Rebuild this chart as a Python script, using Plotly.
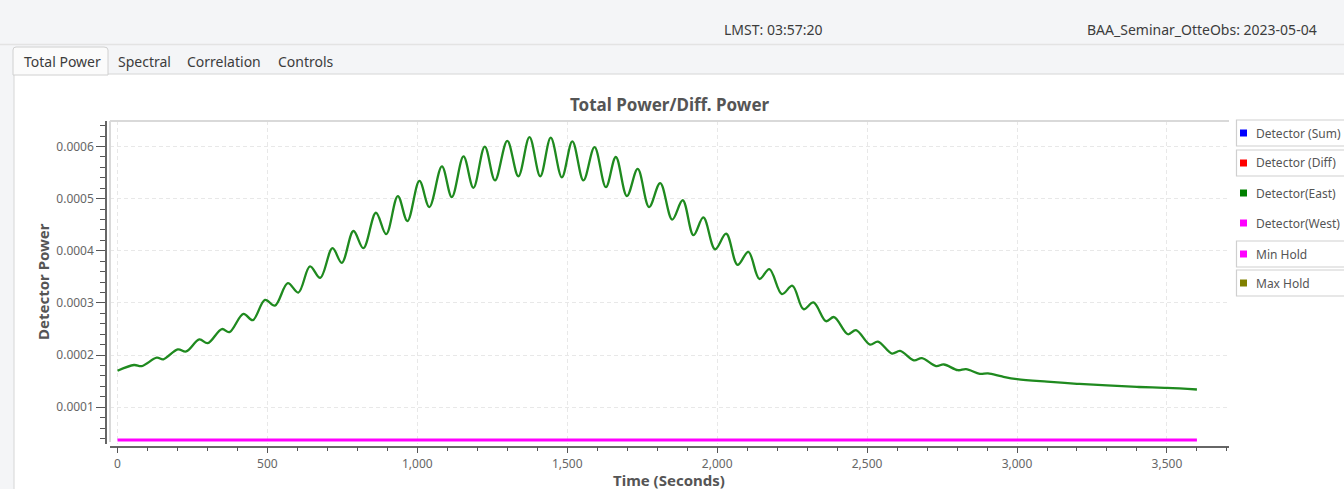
import plotly.graph_objects as go

W, H = 1344, 489

# ---------------- data ----------------
east_time = [0, 55, 81, 131, 153, 201, 229, 273, 301, 348, 373, 420, 451, 492, 525, 568, 603,
             642, 676, 717, 748, 787, 820, 862, 896, 935, 967, 1007, 1040, 1082, 1115, 1154,
             1187, 1225, 1259, 1300, 1337, 1374, 1410, 1445, 1482, 1517, 1554, 1591, 1629,
             1662, 1699, 1735, 1773, 1810, 1850, 1885, 1921, 1954, 1993, 2030, 2068, 2104,
             2141, 2174, 2216, 2251, 2288, 2321, 2363, 2390, 2436, 2463, 2510, 2536, 2583,
             2610, 2656, 2683, 2730, 2756, 2803, 2830, 2876, 2903, 2950, 3000, 3100, 3200,
             3300, 3400, 3500, 3600]
east_power = [0.000170, 0.000181, 0.000179, 0.000195, 0.000192, 0.000211, 0.000207, 0.000230,
              0.000223, 0.000250, 0.000244, 0.000279, 0.000267, 0.000306, 0.000295, 0.000338,
              0.000320, 0.000370, 0.000348, 0.000405, 0.000377, 0.000438, 0.000405, 0.000473,
              0.000432, 0.000505, 0.000457, 0.000534, 0.000484, 0.000562, 0.000503, 0.000581,
              0.000521, 0.000600, 0.000535, 0.000611, 0.000543, 0.000618, 0.000543, 0.000617,
              0.000541, 0.000610, 0.000535, 0.000599, 0.000522, 0.000580, 0.000505, 0.000557,
              0.000484, 0.000530, 0.000460, 0.000497, 0.000430, 0.000464, 0.000403, 0.000433,
              0.000373, 0.000398, 0.000346, 0.000365, 0.000317, 0.000333, 0.000288, 0.000301,
              0.000265, 0.000273, 0.000240, 0.000248, 0.000220, 0.000226, 0.000203, 0.000208,
              0.000190, 0.000194, 0.000179, 0.000182, 0.000171, 0.000173, 0.000164, 0.000165,
              0.000159, 0.000154, 0.000149, 0.000145, 0.000142, 0.000139, 0.000137, 0.000134]

minhold_time = [0, 3600]
minhold_power = [0.000037, 0.000037]

legend_names = ["Detector (Sum)", "Detector (Diff)", "Detector(East)", "Detector(West)",
                "Min Hold", "Max Hold"]
legend_colors = ["#0000ff", "#ff0000", "#008000", "#ff00ff", "#ff00ff", "#808000"]
legend_boxed = [True, True, False, False, True, True]

x_tickvals = [0, 500, 1000, 1500, 2000, 2500, 3000, 3500]
y_tickvals = [0.0001, 0.0002, 0.0003, 0.0004, 0.0005, 0.0006]

tabs = ["Total Power", "Spectral", "Correlation", "Controls"]
tab_x = [22, 116, 185, 276]

FONT = "Noto Sans"
GRAY_TXT = "#666666"

# ---------------- geometry helpers (pixel -> paper) ----------------
def px(x):
    return x / W

def py(y):
    return 1 - y / H

plot_l, plot_r, plot_t, plot_b = 110, 1229, 121, 444

fig = go.Figure()

fig.add_trace(go.Scatter(
    x=minhold_time, y=minhold_power, mode="lines", name="Min Hold",
    line=dict(color="#ff00ff", width=3), showlegend=False, hoverinfo="skip"))
fig.add_trace(go.Scatter(
    x=east_time, y=east_power, mode="lines", name="Detector(East)",
    line=dict(color="#1f8a1f", width=2.3, shape="spline", smoothing=1.0),
    showlegend=False))

shapes = []
annotations = []

# page background pieces
shapes.append(dict(type="rect", xref="paper", yref="paper", x0=px(14), x1=px(W + 5),
                   y0=py(H + 5), y1=py(74), fillcolor="white",
                   line=dict(color="#d6d6d6", width=1), layer="below"))
shapes.append(dict(type="line", xref="paper", yref="paper", x0=0, x1=1, y0=py(44.5), y1=py(44.5),
                   line=dict(color="#e3e3e3", width=1.5), layer="below"))
# selected tab
shapes.append(dict(type="path", xref="paper", yref="paper",
                   path=f"M {px(13)} {py(75)} L {px(13)} {py(50)} Q {px(13)} {py(47)} {px(16)} {py(47)} "
                        f"L {px(104)} {py(47)} Q {px(108)} {py(47)} {px(108)} {py(50)} L {px(108)} {py(75)} Z",
                   fillcolor="#fbfbfb", line=dict(color="#d0d0d0", width=1), layer="below"))

for name, x in zip(tabs, tab_x):
    annotations.append(dict(text=name, xref="paper", yref="paper", x=px(x), y=py(62),
                            xanchor="left", yanchor="middle", showarrow=False,
                            font=dict(family=FONT, size=14, color="#3c3c3c")))

annotations.append(dict(text="LMST: 03:57:20", xref="paper", yref="paper", x=px(773), y=py(30),
                        xanchor="center", yanchor="middle", showarrow=False,
                        font=dict(family=FONT, size=14, color="#3c3c3c")))
annotations.append(dict(text="BAA_Seminar_OtteObs: 2023-05-04", xref="paper", yref="paper",
                        x=px(1319), y=py(30), xanchor="right", yanchor="middle", showarrow=False,
                        font=dict(family=FONT, size=14, color="#3c3c3c")))

# chart title and axis titles
annotations.append(dict(text="<b>Total Power/Diff. Power</b>", xref="paper", yref="paper",
                        x=px(670), y=py(104), xanchor="center", yanchor="middle", showarrow=False,
                        font=dict(family=FONT, size=17, color="#555555")))
annotations.append(dict(text="<b>Time (Seconds)</b>", xref="paper", yref="paper",
                        x=px(669), y=py(480), xanchor="center", yanchor="middle", showarrow=False,
                        font=dict(family=FONT, size=15, color="#555555")))
annotations.append(dict(text="<b>Detector Power</b>", xref="paper", yref="paper",
                        x=px(43), y=py(282), xanchor="center", yanchor="middle", showarrow=False,
                        textangle=-90, font=dict(family=FONT, size=15, color="#555555")))

# plot frame (light top / left borders)
shapes.append(dict(type="line", xref="paper", yref="paper", x0=px(plot_l), x1=px(plot_r),
                   y0=py(plot_t), y1=py(plot_t), line=dict(color="#d9d9d9", width=2)))
shapes.append(dict(type="line", xref="paper", yref="paper", x0=px(plot_l), x1=px(plot_l),
                   y0=py(plot_t), y1=py(442), line=dict(color="#d9d9d9", width=2)))

# custom legend
leg_y = [133, 163, 193, 223, 254, 283]
for name, col, boxed, yc in zip(legend_names, legend_colors, legend_boxed, leg_y):
    if boxed:
        shapes.append(dict(type="rect", xref="paper", yref="paper", x0=px(1236.5), x1=px(W + 10),
                           y0=py(yc + 13), y1=py(yc - 13),
                           line=dict(color="#cfcfcf", width=1.2), fillcolor="white"))
    shapes.append(dict(type="rect", xref="paper", yref="paper", x0=px(1240), x1=px(1247),
                       y0=py(yc + 3.5), y1=py(yc - 3.5), line=dict(width=0), fillcolor=col))
    annotations.append(dict(text=name, xref="paper", yref="paper", x=px(1254), y=py(yc),
                            xanchor="left", yanchor="middle", showarrow=False,
                            font=dict(family=FONT, size=12, color="#555555")))

fig.update_layout(
    width=W, height=H,
    margin=dict(l=0, r=0, t=0, b=0),
    paper_bgcolor="#f4f5f7",
    plot_bgcolor="white",
    showlegend=False,
    shapes=shapes,
    annotations=annotations,
    xaxis=dict(
        domain=[px(plot_l), px(plot_r)],
        range=[-25, 3707],
        anchor="free", position=py(446.5),
        tickvals=x_tickvals, tickformat=",d",
        ticks="outside", ticklen=6, tickwidth=1, tickcolor="#555555",
        showline=True, linecolor="#666666", linewidth=1.5,
        showgrid=True, gridcolor="#e8e8e8", griddash="4px,3px", gridwidth=1,
        zeroline=False,
        tickfont=dict(family=FONT, size=12, color=GRAY_TXT),
        minor=dict(dtick=100, tick0=0, ticks="outside", ticklen=4, tickcolor="#555555", showgrid=False),
        automargin=False,
    ),
    yaxis=dict(
        domain=[py(plot_b), py(plot_t)],
        range=[0.0000295, 0.000649],
        anchor="free", position=px(106),
        tickvals=y_tickvals, tickformat=".4f",
        ticks="outside", ticklen=9, tickwidth=1, tickcolor="#555555",
        showline=True, linecolor="#666666", linewidth=1.5,
        showgrid=True, gridcolor="#e8e8e8", griddash="4px,3px", gridwidth=1,
        zeroline=False,
        tickfont=dict(family=FONT, size=12, color=GRAY_TXT),
        minor=dict(dtick=0.00002, tick0=0, ticks="outside", ticklen=5, tickcolor="#555555", showgrid=False),
        automargin=False,
    ),
)

fig.write_html("out.html", config={"displayModeBar": False},
               post_script="document.body.style.margin='0';document.body.style.overflow='hidden';")
